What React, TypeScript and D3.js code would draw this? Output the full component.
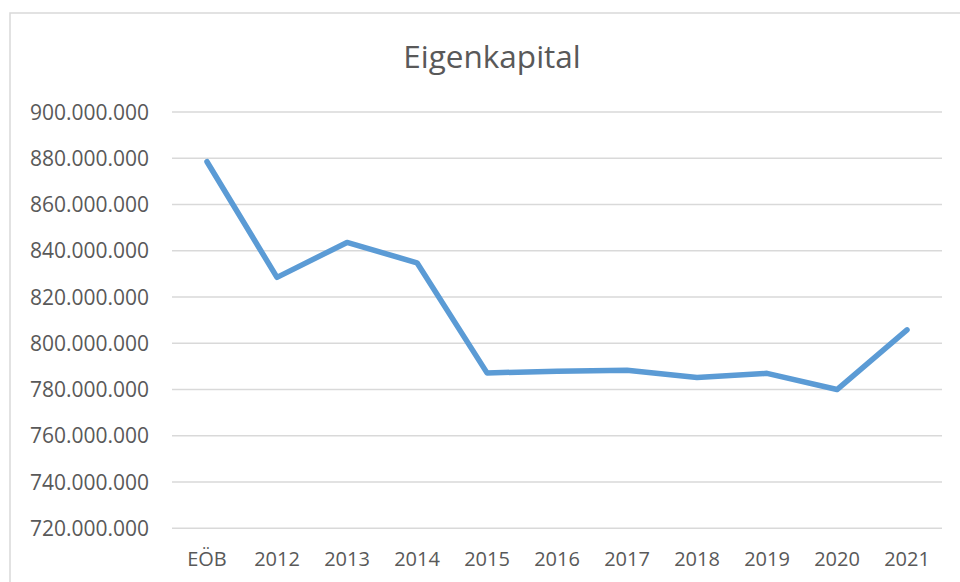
import React from "react";
import * as d3 from "d3";

const categories = ["EÖB", "2012", "2013", "2014", "2015", "2016", "2017", "2018", "2019", "2020", "2021"];
const values = [878500000, 828500000, 843600000, 834800000, 787200000, 787900000, 788300000, 785200000, 787000000, 780000000, 805800000];
const yTicks = [720000000, 740000000, 760000000, 780000000, 800000000, 820000000, 840000000, 860000000, 880000000, 900000000];
const title = "Eigenkapital";

const W = 960;
const H = 582;
const plot = { left: 172, right: 942, top: 112, bottom: 528.3 };
const FONT = "'Open Sans', 'Noto Sans', sans-serif";
const TEXT = "#595959";
const GRID = "#D9D9D9";

const fmt = (v: number) => {
  const s = Math.round(v).toString();
  return s.replace(/\B(?=(\d{3})+(?!\d))/g, ".");
};

export default function App() {
  const x = d3.scaleBand<string>().domain(categories).range([plot.left, plot.right]);
  const y = d3.scaleLinear().domain([720000000, 900000000]).range([plot.bottom, plot.top]);
  const cx = (c: string) => (x(c) ?? 0) + x.bandwidth() / 2;
  const line = d3
    .line<number>()
    .x((_, i) => cx(categories[i]))
    .y((d) => y(d));

  return (
    <svg
      width={W}
      height={H}
      style={{ position: "absolute", left: 0, top: 0, background: "#fff" }}
    >
      <rect x={10} y={13} width={980} height={600} fill="#fff" stroke={GRID} strokeWidth={1.5} />
      <text x={492} y={68} textAnchor="middle" fontFamily={FONT} fontSize={31.5} fill={TEXT}>
        {title}
      </text>
      {yTicks.map((t) => (
        <g key={t}>
          <line x1={plot.left} x2={plot.right} y1={y(t)} y2={y(t)} stroke={GRID} strokeWidth={1.6} />
          <text
            x={149}
            y={y(t)}
            dy="0.36em"
            textAnchor="end"
            fontFamily={FONT}
            fontSize={21}
            fill={TEXT}
          >
            {fmt(t)}
          </text>
        </g>
      ))}
      {categories.map((c) => (
        <text key={c} x={cx(c)} y={566} textAnchor="middle" fontFamily={FONT} fontSize={20} fill={TEXT}>
          {c}
        </text>
      ))}
      <path
        d={line(values) ?? ""}
        fill="none"
        stroke="#5B9BD5"
        strokeWidth={5.5}
        strokeLinejoin="round"
        strokeLinecap="round"
      />
    </svg>
  );
}
